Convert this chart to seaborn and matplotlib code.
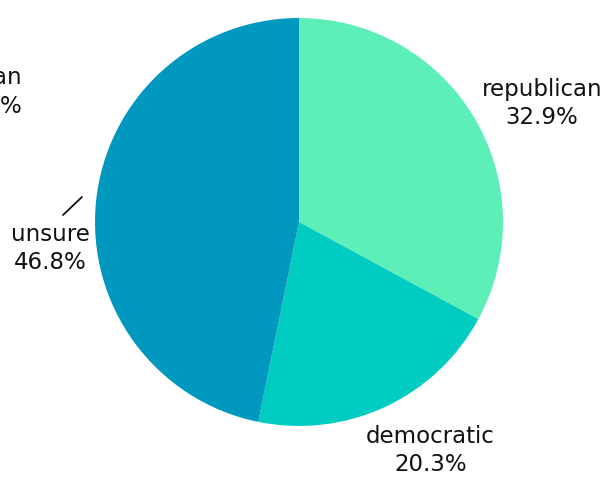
import matplotlib
matplotlib.use("Agg")
import matplotlib.pyplot as plt
import seaborn as sns

# Party affiliation shares
parties = ["republican", "democratic", "unsure"]
shares = [32.9, 20.3, 46.8]
colors = ["#5CF0B8", "#00CCC2", "#0098BE"]

sns.set_theme(style="white")
plt.rcParams["font.family"] = ["Liberation Sans Narrow", "DejaVu Sans"]

W, H = 602, 488
fig = plt.figure(figsize=(W / 100, H / 100), dpi=100)
ax = fig.add_axes([0, 0, 1, 1])

wedges, _ = ax.pie(
    shares,
    colors=colors,
    startangle=90,
    counterclock=False,
    wedgeprops=dict(linewidth=0),
)

# place the pie: centre at (299, 222) px, radius 204 px
cx, cy, r = 299, 222, 204
ax.set_xlim(-cx / r, (W - cx) / r)
ax.set_ylim(-(H - cy) / r, cy / r)
ax.set_aspect("auto")
ax.axis("off")

# label anchors (data units, relative to pie radius)
label_pos = {
    "republican": (1.19, 0.58),
    "democratic": (0.645, -1.12),
    "unsure": (-1.22, -0.13),
}
for name, val in zip(parties, shares):
    x, y = label_pos[name]
    ax.text(x, y, f"{name}\n{val}%", ha="center", va="center",
            fontsize=16.5, color="#111111", linespacing=1.3)

# small stroke above the "unsure" label
ax.plot([-1.157, -1.064], [0.034, 0.1225], color="#111111", lw=1.3)

# label of the neighbouring chart, cut off at the left edge
fig.text(22 / W, 1 - 92 / H, "republican\n31.2%", ha="right", va="center",
         fontsize=16.5, color="#111111", linespacing=1.3)

fig.savefig("out.png", dpi=100, facecolor="white")
